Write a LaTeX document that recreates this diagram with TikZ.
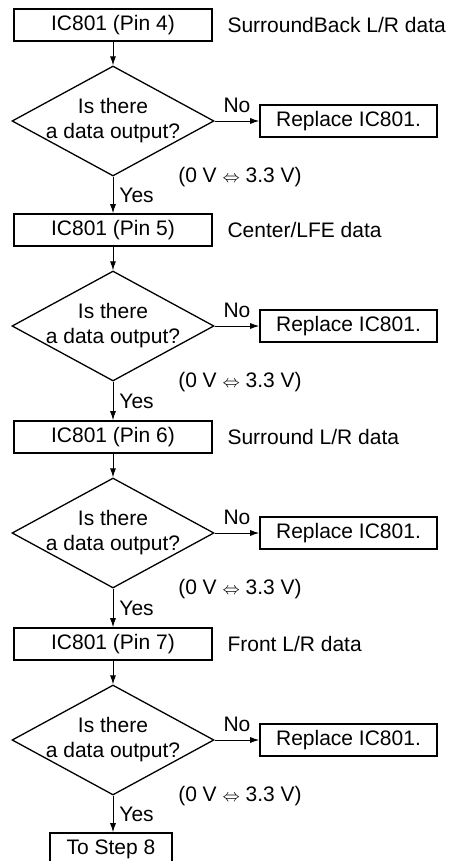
\documentclass[tikz,border=0pt]{standalone}
\usepackage{fontspec}
\setmainfont{Liberation Sans}
\usetikzlibrary{positioning,arrows.meta,shapes.geometric}

\begin{document}
\begin{tikzpicture}[x=1pt,y=1pt,
  font=\fontsize{21}{25}\selectfont,
  pinbox/.style={draw,line width=1.6pt,minimum width=198pt,minimum height=32pt,inner sep=0pt},
  fixbox/.style={draw,line width=1.6pt,minimum width=177pt,minimum height=32pt,inner sep=0pt},
  quest/.style={draw,diamond,aspect=1.84,line width=1.3pt,minimum width=202pt,minimum height=110pt,inner sep=-10pt,align=center},
  arr/.style={line width=0.9pt,-{Latex[length=9pt,width=6pt]}}]
\useasboundingbox (0,0) rectangle (448,-861);

% Pin 4
\node[pinbox] (p4) at (113,-25) {IC801 (Pin 4)};
\node[anchor=west] (s4) at (224,-25) {SurroundBack L/R data};
\node[quest] (q4) at (113,-121) {Is there\\a data output?};
\node[fixbox] (r4) at (348.5,-121) {Replace IC801.};
\node (v4) at (240,-177) {(0 V {\fontsize{19}{19}\selectfont$\Leftrightarrow$} 3.3 V)};

% Pin 5
\node[pinbox] (p5) at (113,-230) {IC801 (Pin 5)};
\node[anchor=west] (s5) at (224,-230) {Center/LFE data};
\node[quest] (q5) at (113,-326) {Is there\\a data output?};
\node[fixbox] (r5) at (348.5,-326) {Replace IC801.};
\node (v5) at (240,-382) {(0 V {\fontsize{19}{19}\selectfont$\Leftrightarrow$} 3.3 V)};

% Pin 6
\node[pinbox] (p6) at (113,-437) {IC801 (Pin 6)};
\node[anchor=west] (s6) at (224,-437) {Surround L/R data};
\node[quest] (q6) at (113,-533) {Is there\\a data output?};
\node[fixbox] (r6) at (348.5,-533) {Replace IC801.};
\node (v6) at (240,-589) {(0 V {\fontsize{19}{19}\selectfont$\Leftrightarrow$} 3.3 V)};

% Pin 7
\node[pinbox] (p7) at (113,-644) {IC801 (Pin 7)};
\node[anchor=west] (s7) at (224,-644) {Front L/R data};
\node[quest] (q7) at (113,-740) {Is there\\a data output?};
\node[fixbox] (r7) at (348.5,-740) {Replace IC801.};
\node (v7) at (240,-796) {(0 V {\fontsize{19}{19}\selectfont$\Leftrightarrow$} 3.3 V)};

% Next step
\node[draw,line width=1.6pt,minimum width=122pt,minimum height=32pt,inner sep=0pt] (next) at (111,-849) {To Step 8};

% arrows
\draw[arr] (p4) -- (q4);
\draw[arr] (q4) -- node[above,inner sep=8pt]{No} (r4);
\draw[arr] (q4) -- node[right,inner sep=6pt]{Yes} (p5);
\draw[arr] (p5) -- (q5);
\draw[arr] (q5) -- node[above,inner sep=8pt]{No} (r5);
\draw[arr] (q5) -- node[right,inner sep=6pt]{Yes} (p6);
\draw[arr] (p6) -- (q6);
\draw[arr] (q6) -- node[above,inner sep=8pt]{No} (r6);
\draw[arr] (q6) -- node[right,inner sep=6pt]{Yes} (p7);
\draw[arr] (p7) -- (q7);
\draw[arr] (q7) -- node[above,inner sep=8pt]{No} (r7);
\draw[arr] (q7) -- node[right,inner sep=6pt]{Yes} (next.north -| q7);
\end{tikzpicture}
\end{document}
